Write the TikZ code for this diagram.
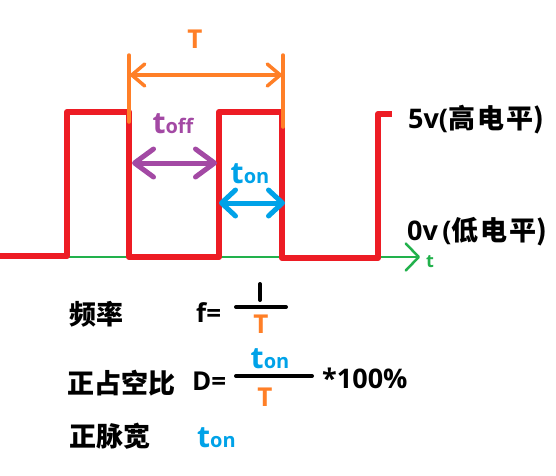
\documentclass[tikz,border=0pt]{standalone}
\usepackage{fontspec}
\setmainfont{Open Sans}
\newfontfamily\cjk{Noto Sans CJK SC}
\newfontfamily\cjkw{Noto Sans CJK SC}[LetterSpace=8]
\usetikzlibrary{arrows.meta}
\definecolor{pwmred}{RGB}{237,28,36}
\definecolor{pwmorange}{RGB}{255,127,39}
\definecolor{pwmpurple}{RGB}{163,73,164}
\definecolor{pwmblue}{RGB}{0,162,232}
\definecolor{pwmgreen}{RGB}{34,177,76}
\newcommand\tlab[1]{{\fontsize{30}{30}\selectfont t}{\fontsize{20}{20}\selectfont #1}}
\tikzset{
  lbl/.style={inner sep=0pt, font=\bfseries\fontsize{26}{30}\selectfont},
  cjklbl/.style={inner sep=0pt, font=\bfseries\fontsize{27}{30}\selectfont\cjk},
  wave/.style={draw=pwmred, line width=6pt, line join=round},
  dimline/.style={line width=#1, line cap=round},
  barb/.style n args={2}{arrows={{Straight Barb[length=#1,width=#2,round]}-{Straight Barb[length=#1,width=#2,round]}}}
}
\begin{document}
\begin{tikzpicture}[x=1pt,y=-1pt]
\useasboundingbox (0,0) rectangle (556,475);
% time axis
\coordinate (ax0) at (67,257);
\coordinate (ax1) at (420,257);
\draw[pwmgreen, line width=2.5pt, -{Straight Barb[length=13pt,width=27pt,round]}] (ax0) -- (ax1);
\node[lbl, pwmgreen, anchor=base west, font=\bfseries\fontsize{18}{20}\selectfont] (tax) at (426,267) {t};
% square wave
\draw[wave] (0,256) -- (67,256) -- (67,112) -- (129,112) -- (129,257)
  -- (219,257) -- (219,112) -- (282,112) -- (282,258) -- (378,258)
  -- (378,114) -- (392,114);
% period T
\coordinate (Ltop) at (129,55);
\coordinate (Lbot) at (129,122);
\coordinate (Rtop) at (283,55);
\coordinate (Rbot) at (283,127);
\coordinate (Ta) at (130,75);
\coordinate (Tb) at (282,75);
\draw[pwmorange, dimline=3.5pt] (Ltop) -- (Lbot);
\draw[pwmorange, dimline=3.5pt] (Rtop) -- (Rbot);
\draw[pwmorange, dimline=3.5pt, barb={13pt}{22pt}] (Ta) -- (Tb);
\node[lbl, pwmorange, anchor=base] (T) at (195,48) {T};
% t_off
\coordinate (offa) at (132,163);
\coordinate (offb) at (217,163);
\draw[pwmpurple, dimline=5pt, barb={19pt}{28pt}] (offa) -- (offb);
\node[lbl, pwmpurple, anchor=base] (toff) at (173,133) {\tlab{off}};
% t_on
\coordinate (ona) at (219,203);
\coordinate (onb) at (285,203);
\draw[pwmblue, dimline=5pt, barb={14pt}{26pt}] (ona) -- (onb);
\node[lbl, pwmblue, anchor=base] (ton) at (250,183) {\tlab{on}};
% levels
\node[lbl, anchor=base west, font=\bfseries\fontsize{27}{30}\selectfont] (high) at (408,128) {5v(\cjkw 高电平\cjk)};
\node[lbl, anchor=base west, font=\bfseries\fontsize{27}{30}\selectfont] (low) at (407,240) {0v\,(\cjkw 低电平\cjk)};
% frequency
\node[cjklbl, anchor=west] (pinlv) at (69,314) {频率};
\node[lbl, anchor=west] (feq) at (196,313) {f=};
\coordinate (fbl) at (236,307);
\coordinate (fbr) at (286,307);
\coordinate (onet) at (260,284);
\coordinate (oneb) at (260,300);
\draw[dimline=4pt] (fbl) -- (fbr);
\draw[dimline=4pt] (onet) -- (oneb);
\node[lbl, pwmorange] (fT) at (261,324) {T};
% duty cycle
\node[cjklbl, anchor=west] (zhan) at (67,383) {正占空比};
\node[lbl, anchor=west] (deq) at (192,381) {D=};
\coordinate (dbl) at (236,376);
\coordinate (dbr) at (312,376);
\draw[dimline=4pt] (dbl) -- (dbr);
\node[lbl, pwmblue, anchor=base] (dton) at (270,368) {\tlab{on}};
\node[lbl, pwmorange] (dT) at (265,397) {T};
\node[lbl, anchor=base west, font=\bfseries\fontsize{27}{30}\selectfont] (pct) at (322,388) {*100\%};
% pulse width
\node[cjklbl, anchor=west] (mai) at (69,436) {正脉宽};
\node[lbl, pwmblue, anchor=base west] (wton) at (197,447) {\tlab{on}};
\end{tikzpicture}
\end{document}
